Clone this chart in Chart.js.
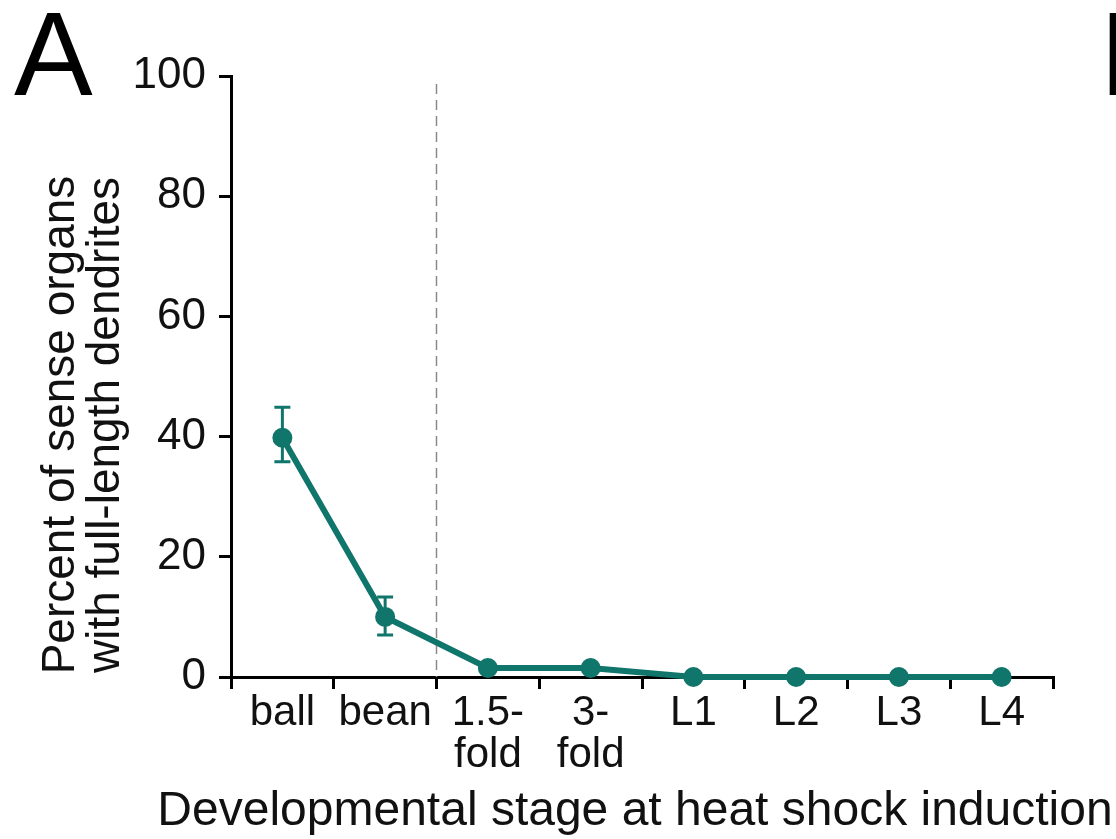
<!DOCTYPE html>
<html>
<head>
<meta charset="utf-8">
<script src="https://cdn.jsdelivr.net/npm/chart.js@4"></script>
<style>
  html, body { margin: 0; padding: 0; background: #fff; }
  #wrap { width: 1116px; height: 839px; }
</style>
</head>
<body>
<div id="wrap"><canvas id="chart" width="1116" height="839"></canvas></div>
<script>
'use strict';

/* ── 데이터 ───────────────────────────────── */
const stages     = ['ball', 'bean', ['1.5-', 'fold'], ['3-', 'fold'], 'L1', 'L2', 'L3', 'L4'];
const percent    = [39.8, 10, 1.5, 1.5, 0, 0, 0, 0];
const errHigh    = [44.9, 13.3, null, null, null, null, null, null];
const errLow     = [35.8, 7, null, null, null, null, null, null];
const yTicks     = [0, 20, 40, 60, 80, 100];
const yTitle     = ['Percent of sense organs', 'with full-length dendrites'];
const xTitle     = 'Developmental stage at heat shock induction';

const TEAL = '#10756a';
const FONT = "'Liberation Sans', Arial, sans-serif";

/* ── 플러그인: 점선, 오차막대, 제목, 패널 문자 ── */
const extras = {
  id: 'extras',
  beforeDatasetsDraw(chart) {
    const { ctx, chartArea, scales: { x } } = chart;
    // bean / 1.5-fold 경계 점선
    const bx = (x.getPixelForValue(1) + x.getPixelForValue(2)) / 2;
    ctx.save();
    ctx.strokeStyle = '#8a8a8a';
    ctx.lineWidth = 1.5;
    ctx.setLineDash([10, 6]);
    ctx.beginPath();
    ctx.moveTo(bx, chartArea.top + 8);
    ctx.lineTo(bx, chartArea.bottom);
    ctx.stroke();
    ctx.restore();
  },
  afterDatasetsDraw(chart) {
    const { ctx, scales: { x, y } } = chart;
    ctx.save();
    ctx.strokeStyle = TEAL;
    ctx.lineWidth = 3;
    errHigh.forEach((hi, i) => {
      if (hi == null) return;
      const px = x.getPixelForValue(i);
      const top = y.getPixelForValue(hi);
      const bot = y.getPixelForValue(errLow[i]);
      ctx.beginPath();
      ctx.moveTo(px, top); ctx.lineTo(px, bot);
      ctx.moveTo(px - 8, top); ctx.lineTo(px + 8, top);
      ctx.moveTo(px - 8, bot); ctx.lineTo(px + 8, bot);
      ctx.stroke();
    });
    ctx.restore();
  },
  afterDraw(chart) {
    const { ctx } = chart;
    ctx.save();
    ctx.fillStyle = '#000';
    // 패널 문자 (B는 오른쪽 끝에서 잘림)
    ctx.font = `118px ${FONT}`;
    ctx.textBaseline = 'alphabetic';
    ctx.textAlign = 'left';
    ctx.fillText('A', 14, 95);
    ctx.fillText('B', 1100, 95);

    // x축 제목
    ctx.fillStyle = '#111';
    ctx.font = `48px ${FONT}`;
    ctx.textAlign = 'center';
    ctx.fillText(xTitle, 635, 825);

    // y축 제목 (두 줄, 세로)
    ctx.font = `46px ${FONT}`;
    ctx.translate(0, 425);
    ctx.rotate(-Math.PI / 2);
    ctx.fillText(yTitle[0], 0, 74);
    ctx.fillText(yTitle[1], 0, 119);
    ctx.restore();
  }
};

/* ── 차트 ─────────────────────────────────── */
new Chart(document.getElementById('chart').getContext('2d'), {
  type: 'line',
  data: {
    labels: stages,
    datasets: [{
      data: percent,
      borderColor: TEAL,
      backgroundColor: TEAL,
      borderWidth: 6,
      pointRadius: 10,
      pointBorderWidth: 0,
      tension: 0,
      clip: false,
      fill: false,
    }],
  },
  options: {
    responsive: false,
    animation: false,
    layout: { padding: { top: 76, right: 63, left: 0, bottom: 0 } },
    plugins: { legend: { display: false }, tooltip: { enabled: false } },
    scales: {
      x: {
        type: 'category',
        offset: true,
        grid: { offset: true, drawOnChartArea: false, drawTicks: true, tickLength: 12, color: '#000', lineWidth: 3 },
        border: { color: '#000', width: 3 },
        ticks: { color: '#111', font: { family: FONT, size: 42, lineHeight: 1.0 }, padding: 3, maxRotation: 0, autoSkip: false },
        afterFit(scale) { scale.height = 162; },
      },
      y: {
        min: 0,
        max: 100,
        afterBuildTicks(scale) { scale.ticks = yTicks.map(v => ({ value: v })); },
        grid: { drawOnChartArea: false, drawTicks: true, tickLength: 12, color: '#000', lineWidth: 3 },
        border: { color: '#000', width: 3 },
        ticks: { color: '#111', font: { family: FONT, size: 44 }, padding: 13 },
        afterFit(scale) { scale.width = 231; },
      },
    },
  },
  plugins: [extras],
});
</script>
</body>
</html>
